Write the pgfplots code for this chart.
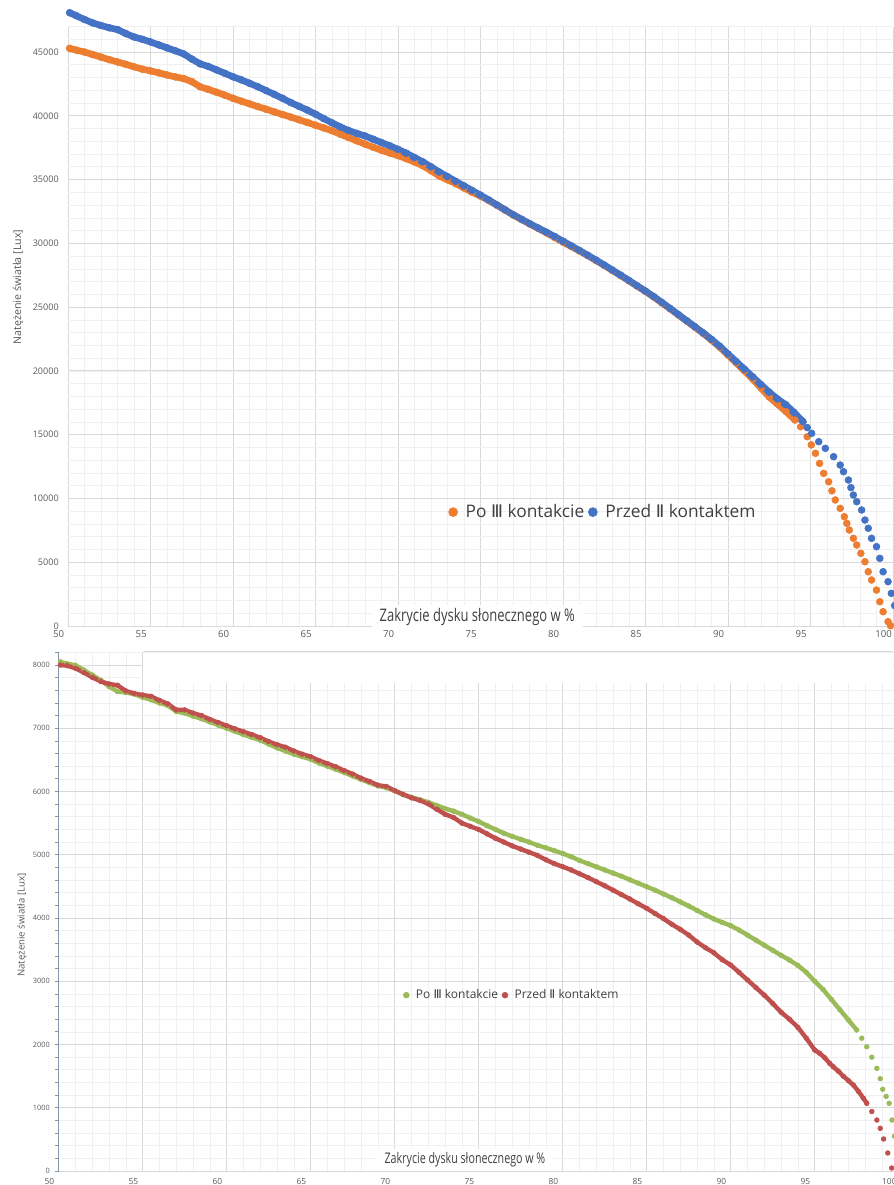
\documentclass[border=0pt]{standalone}
\usepackage{fontspec}
\setmainfont{Open Sans}
\newfontfamily\dejavu{DejaVu Sans}
\usepackage{graphicx}
\usepackage{pgfplots}
\usepackage{pgfplotstable}
\pgfplotsset{compat=1.18}
\definecolor{cOr}{HTML}{ED7D31}
\definecolor{cBl}{HTML}{4472C4}
\definecolor{cGr}{HTML}{9BBB59}
\definecolor{cRd}{HTML}{C0504D}
\definecolor{gmaj}{HTML}{D9D9D9}
\definecolor{gmin}{HTML}{F0F0F0}
\definecolor{ttext}{HTML}{595959}
\definecolor{ltext}{HTML}{404040}
\definecolor{axc}{HTML}{8497A8}

% top chart: Po III kontakcie (orange)
\pgfplotstableread{
X L
50.1 45290
50.5 45150
51.0 45000
51.5 44800
52.0 44600
52.5 44400
53.0 44220
53.5 44040
54.0 43840
54.5 43660
55.0 43520
55.5 43370
56.0 43200
56.5 43050
57.0 42920
57.5 42680
58.0 42280
58.5 42070
59.0 41850
59.5 41620
60.0 41370
60.5 41150
61.0 40940
61.5 40720
62.0 40520
62.5 40310
63.0 40100
63.5 39900
64.0 39690
64.5 39480
65.0 39260
65.5 39050
66.0 38830
66.5 38560
67.0 38300
67.5 38040
68.0 37780
68.5 37530
69.0 37300
69.5 37080
70.0 36880
70.5 36640
71.0 36380
71.5 36090
72.0 35700
72.5 35280
73.0 34980
73.5 34680
74.0 34340
74.5 34000
75.0 33700
75.5 33360
76.0 32980
76.5 32600
77.0 32210
77.5 31860
78.0 31510
78.5 31170
79.0 30820
79.5 30460
80.0 30090
80.5 29750
81.0 29400
81.5 29040
82.0 28660
82.5 28270
83.0 27870
83.5 27470
84.0 27060
84.5 26640
85.0 26230
85.5 25790
86.0 25330
86.5 24860
87.0 24380
87.5 23900
88.0 23420
88.5 22930
89.0 22410
89.5 21860
90.0 21250
90.5 20620
91.0 19990
91.5 19350
92.0 18650
92.5 17950
93.0 17400
93.5 16830
94.06 16150
94.4 15625
94.8 14840
95.05 14200
95.3 13540
95.55 12750
95.8 11970
96.1 11310
96.3 10600
96.5 9880
96.8 9225
97.05 8570
97.2 8050
97.35 7525
97.6 6875
97.8 6350
98.05 5700
98.3 5040
98.5 4255
98.7 3605
99.0 2820
99.2 1905
99.4 1120
99.7 340
99.85 20
}\tblO

% top chart: Przed II kontaktem (blue)
\pgfplotstableread{
X L
50.1 48080
50.5 47850
51.0 47550
51.5 47280
52.0 47080
52.5 46900
53.0 46760
53.5 46450
54.0 46180
54.5 46000
55.0 45790
55.5 45560
56.0 45330
56.5 45100
57.0 44860
57.5 44450
58.0 44080
58.5 43870
59.0 43600
59.5 43330
60.0 43060
60.5 42820
61.0 42550
61.5 42280
62.0 41980
62.5 41680
63.0 41370
63.5 41040
64.0 40740
64.5 40450
65.0 40130
65.5 39780
66.0 39450
66.5 39130
67.0 38850
67.5 38620
68.0 38420
68.5 38160
69.0 37900
69.5 37650
70.0 37370
70.5 37070
71.0 36730
71.5 36390
72.0 36000
72.5 35590
73.0 35230
73.5 34860
74.0 34500
74.5 34140
75.0 33780
75.5 33400
76.0 33010
76.5 32620
77.0 32230
77.5 31880
78.0 31530
78.5 31200
79.0 30870
79.5 30530
80.0 30170
80.5 29810
81.0 29440
81.5 29070
82.0 28690
82.5 28300
83.0 27900
83.5 27500
84.0 27090
84.5 26670
85.0 26260
85.5 25820
86.0 25360
86.5 24890
87.0 24410
87.5 23930
88.0 23460
88.5 22980
89.0 22470
89.5 21930
90.0 21330
90.5 20730
91.0 20130
91.5 19530
92.0 18920
92.5 18330
93.0 17800
93.5 17350
94.0 16750
94.55 16015
94.8 15560
95.07 15105
95.5 14450
95.9 13930
96.4 13275
96.8 12620
97.0 12100
97.3 11445
97.45 10850
97.6 10270
97.8 9745
98.1 9095
98.3 8310
98.5 7660
98.7 6875
99.0 6220
99.2 5305
99.4 4255
99.7 3475
99.9 2560
100.1 1600
100.3 700
}\tblB

% bottom chart: Po III kontakcie (green)
\pgfplotstableread{
X L
50.1 8050
50.5 8020
51.0 7995
51.5 7920
52.0 7840
52.5 7760
53.0 7660
53.5 7580
54.0 7565
54.5 7540
55.0 7490
55.5 7450
56.0 7400
56.5 7360
57.0 7265
57.5 7240
58.0 7190
58.5 7150
59.0 7100
59.5 7050
60.0 7000
60.5 6950
61.0 6900
61.5 6855
62.0 6810
62.5 6750
63.0 6690
63.5 6640
64.0 6590
64.5 6550
65.0 6510
65.5 6450
66.0 6400
66.5 6350
67.0 6300
67.5 6245
68.0 6190
68.5 6140
69.0 6090
69.5 6060
70.0 6015
70.5 5950
71.0 5910
71.5 5870
72.0 5830
72.5 5780
73.0 5730
73.5 5690
74.0 5640
74.5 5580
75.0 5525
75.5 5460
76.0 5400
76.5 5340
77.0 5290
77.5 5245
78.0 5200
78.5 5150
79.0 5110
79.5 5065
80.0 5020
80.5 4970
81.0 4910
81.5 4860
82.0 4810
82.5 4760
83.0 4710
83.5 4660
84.0 4605
84.5 4550
85.0 4495
85.5 4440
86.0 4380
86.5 4320
87.0 4255
87.5 4190
88.0 4120
88.5 4050
89.0 3985
89.5 3930
90.0 3880
90.5 3810
91.0 3730
91.5 3650
92.0 3570
92.5 3490
93.0 3410
93.5 3335
94.0 3250
94.5 3140
95.0 3000
95.5 2870
96.0 2710
96.5 2550
97.0 2390
97.5 2229
97.8 2100
98.1 1965
98.4 1800
98.7 1623
98.9 1460
99.05 1292
99.25 1180
99.43 1070
99.6 806
99.75 550
99.9 300
100.0 50
}\tblG

% bottom chart: Przed II kontaktem (red)
\pgfplotstableread{
X L
50.1 8000
50.5 7990
51.0 7948
51.5 7880
52.0 7805
52.5 7740
53.0 7700
53.5 7680
54.0 7590
54.5 7550
55.0 7525
55.5 7505
56.0 7440
56.5 7385
57.0 7290
57.5 7290
58.0 7240
58.5 7200
59.0 7140
59.5 7090
60.0 7040
60.5 6990
61.0 6945
61.5 6900
62.0 6850
62.5 6790
63.0 6740
63.5 6700
64.0 6640
64.5 6590
65.0 6550
65.5 6490
66.0 6440
66.5 6390
67.0 6330
67.5 6275
68.0 6210
68.5 6160
69.0 6100
69.5 6080
70.0 6013
70.5 5955
71.0 5900
71.5 5860
72.0 5805
72.5 5720
73.0 5640
73.5 5590
74.0 5500
74.5 5450
75.0 5400
75.5 5330
76.0 5260
76.5 5200
77.0 5140
77.5 5090
78.0 5040
78.5 4990
79.0 4920
79.5 4860
80.0 4811
80.5 4760
81.0 4700
81.5 4640
82.0 4575
82.5 4510
83.0 4440
83.5 4370
84.0 4300
84.5 4225
85.0 4153
85.5 4070
86.0 3990
86.5 3900
87.0 3820
87.5 3730
88.0 3620
88.5 3530
89.0 3450
89.5 3340
90.0 3257
90.5 3140
91.0 3020
91.5 2900
92.0 2780
92.5 2650
93.0 2510
93.5 2400
94.0 2270
94.5 2100
95.0 1913
95.3 1860
95.6 1790
95.9 1700
96.1 1649
96.4 1580
96.7 1500
97.0 1430
97.3 1360
97.6 1260
97.9 1150
98.1 1070
98.4 940
98.7 806
98.9 675
99.1 506
99.35 285
99.58 47
}\tblR

\begin{document}
\begin{tikzpicture}
\useasboundingbox (0,0) rectangle (669.75pt,-888.75pt);

% ---------------- top chart ----------------
\begin{axis}[
  at={(51pt,-469.5pt)}, anchor=south west,
  scale only axis, width=618.75pt, height=449.625pt,
  xmin=50, xmax=100, ymin=0, ymax=47000,
  xtick={50,55,...,100}, minor x tick num=4,
  ytick={0,5000,...,45000}, minor ytick={1000,2000,...,47000},
  grid=both,
  major grid style={draw=gmaj, line width=0.7pt},
  minor grid style={draw=gmin, line width=0.5pt},
  axis line style={draw=none}, tick style={draw=none},
  clip=false,
  scaled y ticks=false, scaled x ticks=false,
  /pgf/number format/1000 sep={},
  /pgf/number format/assume math mode=true,
  x tick label style={font=\fontsize{7.2}{8}\selectfont, text=ttext, anchor=north, inner sep=0pt, yshift=-3.5pt, xshift=-7pt},
  y tick label style={font=\fontsize{6.8}{8}\selectfont, text=ttext, anchor=east, inner sep=0pt, xshift=-6.75pt},
  ylabel={Natężenie światła [Lux]},
  ylabel style={at={(axis description cs:-0.0606,0.5655)}, anchor=center, font=\fontsize{8}{9}\selectfont, text=ttext},
  legend style={draw=none, fill=none, at={(0.649,0.190)}, anchor=center,
    legend columns=2, font=\fontsize{13}{15}\selectfont, text=ltext,
    /tikz/every even column/.append style={column sep=1pt},
    /tikz/every odd column/.append style={column sep=4pt}},
  legend image code/.code={\draw[#1, mark size=3.4pt] plot coordinates {(0.12cm,0cm)};},
]
\addplot[forget plot, no marks, cOr, line width=5pt, line join=round, line cap=round, restrict x to domain=50:94.1] table[x=X,y=L]{\tblO};
\addplot[only marks, mark=*, mark size=2.6pt, color=cOr] table[x=X,y=L]{\tblO};
\addlegendentry{Po {\dejavu Ⅲ} kontakcie}
\addplot[forget plot, no marks, cBl, line width=5pt, line join=round, line cap=round, restrict x to domain=50:94.6] table[x=X,y=L]{\tblB};
\addplot[only marks, mark=*, mark size=2.6pt, color=cBl] table[x=X,y=L]{\tblB};
\addlegendentry{Przed {\dejavu Ⅱ} kontaktem}
\node[fill=white, inner xsep=6pt, inner ysep=2.5pt, text=ltext] at (axis cs:74.8,706)
  {\scalebox{0.75}[1]{\fontsize{13}{15}\selectfont Zakrycie dysku słonecznego w \%}};
\end{axis}

% ---------------- bottom chart ----------------
\begin{axis}[
  at={(44.025pt,-878.25pt)}, anchor=south west,
  scale only axis, width=630pt, height=388.99pt,
  xmin=50, xmax=100, ymin=0, ymax=8200,
  xtick={50,55,...,100}, minor x tick num=4,
  ytick={0,1000,...,8000}, minor ytick={200,400,...,8200},
  grid=both,
  major grid style={draw=gmaj, line width=0.7pt},
  minor grid style={draw=gmin, line width=0.5pt},
  axis x line*=bottom, axis y line*=left,
  x axis line style={draw=none},
  y axis line style={draw=axc, line width=0.8pt},
  xtick style={draw=none},
  ytick style={draw=axc, line width=0.6pt},
  tick align=outside, major tick length=2.5pt, minor tick length=2.5pt,
  clip=false,
  scaled y ticks=false, scaled x ticks=false,
  /pgf/number format/1000 sep={},
  /pgf/number format/assume math mode=true,
  x tick label style={font=\fontsize{6.3}{7}\selectfont, text=ttext, anchor=north, inner sep=0pt, yshift=-3pt, xshift=-7pt},
  y tick label style={font=\fontsize{5.5}{6.5}\selectfont, text=ttext, anchor=east, inner sep=0pt, xshift=-4pt},
  ylabel={Natężenie światła [Lux]},
  ylabel style={at={(axis description cs:-0.0437,0.474)}, anchor=center, font=\fontsize{7.2}{8}\selectfont, text=ttext},
  legend style={draw=none, fill=none, at={(0.540,0.339)}, anchor=center,
    legend columns=2, font=\fontsize{9}{11}\selectfont, text=ltext,
    /tikz/every even column/.append style={column sep=1pt},
    /tikz/every odd column/.append style={column sep=3pt}},
  legend image code/.code={\draw[#1, mark size=2.2pt] plot coordinates {(0.08cm,0cm)};},
]
\addplot[forget plot, no marks, cGr, line width=3.3pt, line join=round, line cap=round, restrict x to domain=50:97.6] table[x=X,y=L]{\tblG};
\addplot[only marks, mark=*, mark size=1.8pt, color=cGr] table[x=X,y=L]{\tblG};
\addlegendentry{Po {\dejavu Ⅲ} kontakcie}
\addplot[forget plot, no marks, cRd, line width=3.3pt, line join=round, line cap=round, restrict x to domain=50:98.2] table[x=X,y=L]{\tblR};
\addplot[only marks, mark=*, mark size=1.8pt, color=cRd] table[x=X,y=L]{\tblR};
\addlegendentry{Przed {\dejavu Ⅱ} kontaktem}
\node[fill=white, inner xsep=6pt, inner ysep=2.5pt, text=ltext] at (axis cs:74.18,174)
  {\scalebox{0.73}[1]{\fontsize{11}{13}\selectfont Zakrycie dysku słonecznego w \%}};
\end{axis}

% blank band and rule at top of the lower chart (as in the reference)
\fill[white] (107pt,-489.75pt) rectangle (669.75pt,-512.25pt);
\draw[gmaj, line width=0.7pt] (107pt,-488.8pt) -- (669.75pt,-488.8pt);
\end{tikzpicture}
\end{document}
